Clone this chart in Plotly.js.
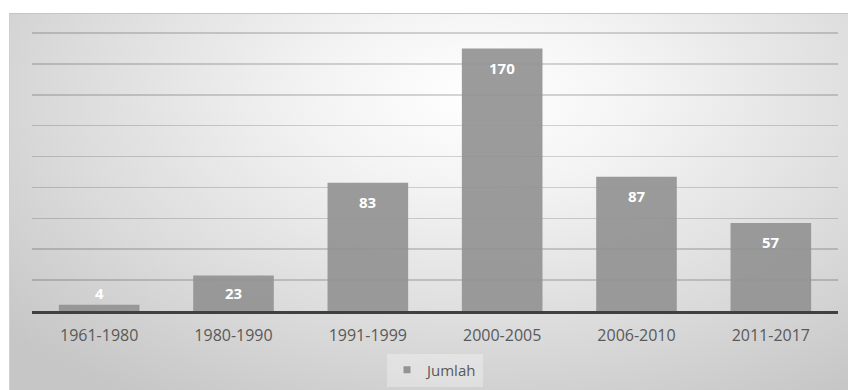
<!DOCTYPE html>
<html>
<head>
<meta charset="utf-8">
<script src="https://cdn.plot.ly/plotly-3.0.1.min.js"></script>
<style>
  html, body { margin: 0; padding: 0; background: #ffffff; }
  #wrap { position: relative; width: 848px; height: 390px; overflow: hidden; }
  #bg {
    position: absolute; left: 9px; top: 13px; right: 0; bottom: 0;
    border-top: 1px solid #c4c4c4; border-left: 1px solid #d0d0d0;
    background: radial-gradient(ellipse 75% 95% at 56% 22%, #ffffff 0%, #f4f4f4 25%, #dcdcdc 65%, #c6c6c6 100%);
  }
  #chart { position: absolute; left: 0; top: 0; width: 848px; height: 390px; }
</style>
</head>
<body>
<div id="wrap">
  <div id="bg"></div>
  <div id="chart"></div>
</div>
<script>
const categories = ["1961-1980", "1980-1990", "1991-1999", "2000-2005", "2006-2010", "2011-2017"];
const values = [4, 23, 83, 170, 87, 57];
const seriesName = "Jumlah";

const yMax = 180;
const yRangeMax = 182;
const plotBottom = 311;
const pxPerUnit = 278 / yMax;
const plotTop = Math.round(plotBottom - pxPerUnit * yRangeMax);

const annotations = values.map((v, i) => {
  const barPx = v * pxPerUnit;
  const inside = barPx >= 37;
  return {
    x: categories[i], y: inside ? v : 0, xref: 'x', yref: 'y',
    yshift: inside ? -19 : 18,
    text: String(v), showarrow: false,
    font: { family: 'Open Sans', size: 15, color: '#ffffff', weight: 'bold' },
    xanchor: 'center', yanchor: 'middle'
  };
});

const traces = [
  {
    type: 'bar', x: categories, y: values, name: seriesName, showlegend: false,
    marker: { color: '#939393', opacity: 0.92, line: { width: 0 } },
    hoverinfo: 'x+y'
  },
  {
    type: 'scatter', mode: 'markers', x: [null], y: [null], name: seriesName,
    marker: { symbol: 'square', size: 7, color: '#939393' }, showlegend: true
  }
];

const layout = {
  width: 848, height: 390,
  paper_bgcolor: 'rgba(0,0,0,0)', plot_bgcolor: 'rgba(0,0,0,0)',
  margin: { l: 32, r: 10, t: plotTop, b: 390 - plotBottom, pad: 0, autoexpand: false },
  bargap: 0.4,
  font: { family: 'Open Sans', color: '#595959' },
  xaxis: {
    type: 'category', showline: true, linecolor: '#404040', linewidth: 2.5,
    ticks: '', showgrid: false, zeroline: false, fixedrange: true, automargin: false,
    tickfont: { family: 'Open Sans', size: 16, color: '#595959' },
    ticklabelstandoff: 8
  },
  yaxis: {
    range: [0, yRangeMax], tick0: 0, dtick: 20, showticklabels: false, ticks: '',
    showgrid: true, gridcolor: 'rgba(0,0,0,0.16)', gridwidth: 1.5, automargin: false,
    zeroline: false, showline: false, fixedrange: true
  },
  showlegend: true,
  legend: {
    orientation: 'h', x: 0.5, xanchor: 'center', y: -59 / (plotBottom - plotTop), yanchor: 'middle',
    bgcolor: 'rgba(255,255,255,0.3)', borderwidth: 0,
    font: { family: 'Open Sans', size: 15, color: '#595959' },
    itemwidth: 30
  },
  annotations: annotations
};

Plotly.newPlot('chart', traces, layout, { displayModeBar: false, staticPlot: true });
</script>
</body>
</html>
